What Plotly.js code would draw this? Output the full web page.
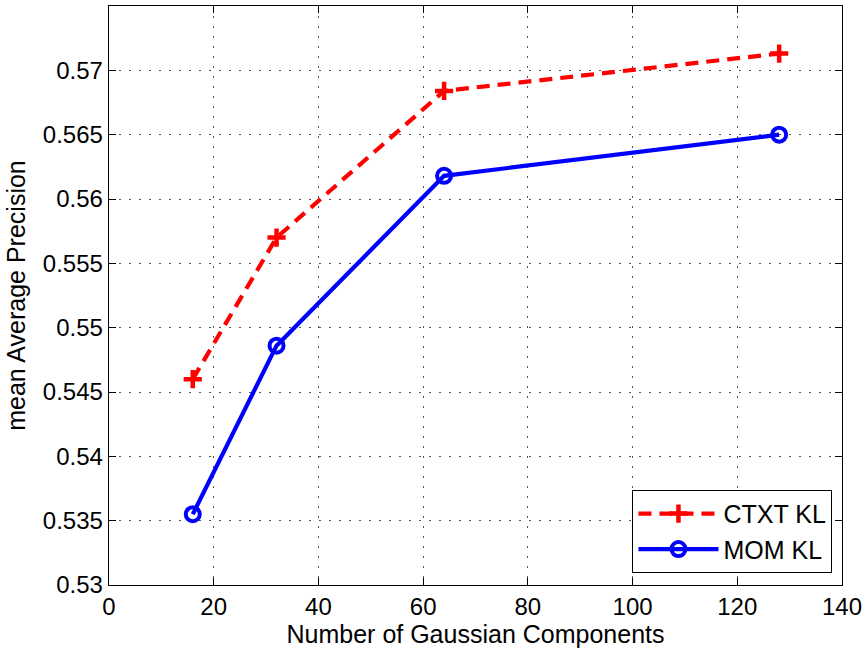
<!DOCTYPE html>
<html>
<head>
<meta charset="utf-8">
<script src="https://cdn.plot.ly/plotly-3.0.1.min.js"></script>
<style>html,body{margin:0;padding:0;background:#fff;}#chart{width:862px;height:648px;}</style>
</head>
<body>
<div id="chart"></div>
<script>
const components = [16, 32, 64, 128];
const ctxtKL = [0.5460, 0.5570, 0.5684, 0.5713];
const momKL = [0.5355, 0.5486, 0.5618, 0.5650];
const seriesNames = ["CTXT KL", "MOM KL"];
const xTicks = [0, 20, 40, 60, 80, 100, 120, 140];
const yTicks = [0.53, 0.535, 0.54, 0.545, 0.55, 0.555, 0.56, 0.565, 0.57];

const traces = [
  {
    x: components, y: ctxtKL, name: seriesNames[0], mode: "lines+markers",
    line: {color: "#ff0000", width: 4.2, dash: "13px,8px"},
    marker: {symbol: "cross-thin", size: 13, color: "#ff0000", line: {color: "#ff0000", width: 4.5}}
  },
  {
    x: components, y: momKL, name: seriesNames[1], mode: "lines+markers",
    line: {color: "#0000ff", width: 4.2},
    marker: {symbol: "circle-open", size: 14, color: "#0000ff", line: {color: "#0000ff", width: 4}}
  }
];

const fam = "Liberation Sans, Arial, sans-serif";
const layout = {
  width: 862, height: 648,
  margin: {l: 109, r: 20, t: 6, b: 63},
  paper_bgcolor: "#fff", plot_bgcolor: "#fff",
  font: {family: fam, color: "#000"},
  showlegend: true,
  legend: {
    x: 0.987, y: 0.021, xanchor: "right", yanchor: "bottom",
    bordercolor: "#000", borderwidth: 1, bgcolor: "#fff",
    font: {family: fam, size: 25, color: "#000"},
    itemwidth: 80, tracegroupgap: 0
  },
  xaxis: {
    range: [0, 140], tickvals: xTicks, ticktext: xTicks.map(String),
    ticklabeloverflow: "allow",
    showline: true, linecolor: "#000", linewidth: 1.3, mirror: "ticks",
    ticks: "inside", ticklen: 7, tickcolor: "#000",
    showgrid: true, gridcolor: "#555", griddash: "2px,8px", gridwidth: 1,
    zeroline: false,
    tickfont: {family: fam, size: 24, color: "#000"},
    title: {text: "Number of Gaussian Components", font: {family: fam, size: 25, color: "#000"}, standoff: 8}
  },
  yaxis: {
    range: [0.53, 0.575], tickvals: yTicks, ticktext: yTicks.map(v => String(v)),
    ticklabeloverflow: "allow",
    showline: true, linecolor: "#000", linewidth: 1.3, mirror: "ticks",
    ticks: "inside", ticklen: 7, tickcolor: "#000",
    showgrid: true, gridcolor: "#555", griddash: "2px,8px", gridwidth: 1,
    zeroline: false,
    tickfont: {family: fam, size: 24, color: "#000"},
    title: {text: "mean Average Precision", font: {family: fam, size: 25, color: "#000"}, standoff: 10}
  }
};

Plotly.newPlot("chart", traces, layout, {displayModeBar: false, staticPlot: true});
</script>
</body>
</html>
